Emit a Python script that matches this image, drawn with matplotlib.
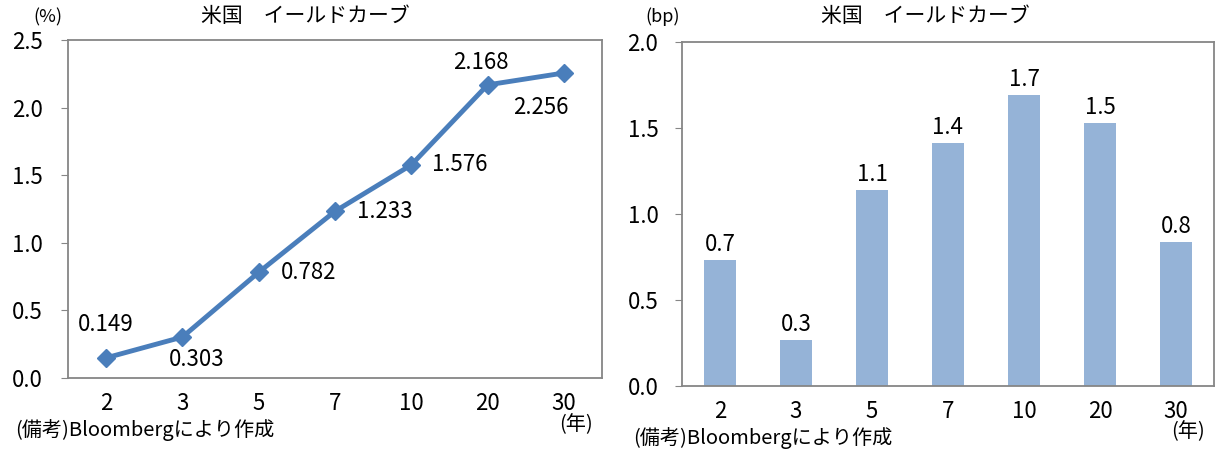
import matplotlib
matplotlib.use("Agg")
import matplotlib.pyplot as plt
import numpy as np

plt.rcParams['font.family'] = ['Noto Sans CJK JP', 'DejaVu Sans']

maturities = ["2", "3", "5", "7", "10", "20", "30"]
yields = [0.149, 0.303, 0.782, 1.233, 1.576, 2.168, 2.256]
yield_labels = ["0.149", "0.303", "0.782", "1.233", "1.576", "2.168", "2.256"]
changes = [0.73, 0.27, 1.14, 1.41, 1.69, 1.53, 0.84]
change_labels = ["0.7", "0.3", "1.1", "1.4", "1.7", "1.5", "0.8"]
left_yticks = [0.0, 0.5, 1.0, 1.5, 2.0, 2.5]
right_yticks = [0.0, 0.5, 1.0, 1.5, 2.0]
title = "米国　イールドカーブ"
note = "(備考)Bloombergにより作成"

W, H = 1221, 453
fig = plt.figure(figsize=(W / 100, H / 100), dpi=100)

spine_col = "#868686"
line_col = "#4A7EBB"
bar_col = "#95B3D7"
fs = 16


def ax_rect(x0, y0, x1, y1):
    return [x0 / W, 1 - y1 / H, (x1 - x0) / W, (y1 - y0) / H]


def style_axes(ax, ypad):
    for s in ax.spines.values():
        s.set_color(spine_col)
        s.set_linewidth(1.3)
    ax.tick_params(axis='y', direction='out', length=5, color=spine_col,
                   labelsize=fs, pad=ypad)
    ax.tick_params(axis='x', length=0, labelsize=fs, pad=10)


# Left: line chart
ax1 = fig.add_axes(ax_rect(68, 40, 602, 378))
x = np.arange(len(maturities))
ax1.plot(x, yields, color=line_col, lw=3.5, marker='D', ms=9,
         markeredgecolor=line_col, zorder=3)
ax1.set_xlim(-0.5, len(maturities) - 0.5)
ax1.set_ylim(0, 2.5)
ax1.set_yticks(left_yticks)
ax1.set_yticklabels([f"{v:.1f}" for v in left_yticks])
ax1.set_xticks(x)
ax1.set_xticklabels(maturities)
style_axes(ax1, 13)

offsets = [(0, 33, 'center'), (14, -22, 'center'), (22, 0, 'left'),
           (22, 0, 'left'), (21, 0, 'left'), (-7, 22, 'center'),
           (-23, -35, 'center')]
for xi, yi, lab, (dx, dy, ha) in zip(x, yields, yield_labels, offsets):
    ax1.annotate(lab, (xi, yi), xytext=(dx, dy), textcoords='offset pixels',
                 ha=ha, va='center', fontsize=fs)

# Right: bar chart
ax2 = fig.add_axes(ax_rect(682, 42, 1214, 386))
ax2.bar(x, changes, width=0.42, color=bar_col, zorder=2)
ax2.set_xlim(-0.5, len(maturities) - 0.5)
ax2.set_ylim(0, 2.0)
ax2.set_yticks(right_yticks)
ax2.set_yticklabels([f"{v:.1f}" for v in right_yticks])
ax2.set_xticks(x)
ax2.set_xticklabels(maturities)
style_axes(ax2, 12)
for xi, yi, lab in zip(x, changes, change_labels):
    ax2.annotate(lab, (xi, yi), xytext=(0, 4), textcoords='offset pixels',
                 ha='center', va='bottom', fontsize=fs)

# Titles and annotations
fig.text(305 / W, 1 - 16 / H, title, ha='center', va='center', fontsize=15)
fig.text(925 / W, 1 - 16 / H, title, ha='center', va='center', fontsize=15)
fig.text(48 / W, 1 - 17 / H, "(%)", ha='center', va='center', fontsize=13)
fig.text(663 / W, 1 - 17 / H, "(bp)", ha='center', va='center', fontsize=13)
fig.text(15 / W, 1 - 430 / H, note, ha='left', va='center', fontsize=14.5)
fig.text(633 / W, 1 - 438 / H, note, ha='left', va='center', fontsize=14.5)
fig.text(576 / W, 1 - 425 / H, "(年)", ha='center', va='center', fontsize=14.5)
fig.text(1188 / W, 1 - 432 / H, "(年)", ha='center', va='center', fontsize=14.5)

fig.savefig("out.png", dpi=100, facecolor='white')
